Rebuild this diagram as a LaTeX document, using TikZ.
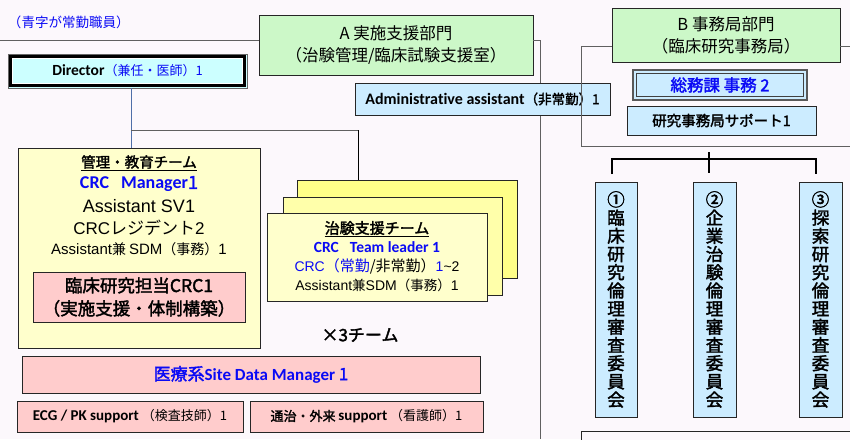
\documentclass[tikz,border=0pt]{standalone}
\usepackage{fontspec}
\setmainfont{Noto Sans CJK JP}[AutoFakeBold=2]
\newfontfamily\calf{Carlito}[Ligatures=NoCommon]
\newfontfamily\arif{Liberation Sans}
\newcommand\fs[2]{\fontsize{#1}{#2}\selectfont}
\definecolor{bg}{HTML}{FCF8FC}
\definecolor{grn}{HTML}{CCF8C8}
\definecolor{lblue}{HTML}{CCECFF}
\definecolor{cyanf}{HTML}{CCFFFF}
\definecolor{lyel}{HTML}{FFFFCC}
\definecolor{yel2}{HTML}{FFFFAA}
\definecolor{yel3}{HTML}{FFFF88}
\definecolor{pnk}{HTML}{FFCCCC}
\definecolor{bl}{HTML}{0A0AF5}
\definecolor{ln}{HTML}{606060}
\definecolor{stl}{HTML}{4F6FA8}
\tikzset{
  box/.style={draw=black!85, line width=0.9pt, inner sep=0pt, outer sep=0pt, align=center},
  gbox/.style={box, fill=grn},
  lbbox/.style={box, fill=lblue},
  pbox/.style={box, fill=pnk},
  ybox/.style={box, fill=lyel},
  txt/.style={inner sep=0pt, outer sep=0pt, align=center},
  conn/.style={draw=ln, line width=0.9pt},
  kconn/.style={draw=black, line width=1.8pt},
  vtext/.style={txt, font=\bfseries\fs{17.5}{18.2}},
}
\begin{document}
\begin{tikzpicture}[x=1pt,y=-1pt]
\fill[bg] (0,0) rectangle (850,439);
\useasboundingbox (0,0) rectangle (850,439);

% top note
\node[txt, anchor=west, text=bl, font=\fs{13.5}{16}] (note) at (8,22) {（青字が常勤職員）};

% A department
\node[gbox, minimum width=274pt, minimum height=60pt, font=\fs{16.5}{22}] (A) at (396,45) {A 実施支援部門\\（治験管理/臨床試験支援室）};
\coordinate (l0) at (0,40);
\draw[conn] (l0) -- (A.west |- l0);
\coordinate (ar) at (540,40);
\coordinate (ab) at (540,439);
\draw[conn] (A.east |- ar) -- (ar) -- (ab);

% admin assistant
\node[lbbox, minimum width=255pt, minimum height=32pt, font=\bfseries\fs{13.5}{16}] (adm) at (482.5,99) {{\calf\fs{16}{18}Administrative assistant}（非常勤）1};

% B department
\node[gbox, minimum width=228pt, minimum height=54pt, font=\fs{16.5}{22}] (B) at (726,35) {B 事務局部門\\（臨床研究事務局）};
\coordinate (b1) at (581,46);
\coordinate (b2) at (581,146);
\coordinate (b3) at (850,146);
\coordinate (b4) at (850,46);
\draw[conn] (B.west |- b1) -- (b1) -- (b2) -- (b3);
\draw[conn] (B.east |- b4) -- (b4);

\node[lbbox, draw=black!65, line width=1.6pt, minimum width=174pt, minimum height=30pt, text=bl, font=\bfseries\fs{16.5}{18}] (soumu) at (720,85) {総務課 事務 2};
\draw[black!75, line width=0.7pt] ([shift={(3.2,3.2)}]soumu.north west) rectangle ([shift={(-3.2,-3.2)}]soumu.south east);
\node[lbbox, minimum width=189pt, minimum height=29pt, font=\bfseries\fs{14.5}{16}] (sup) at (721.5,120.5) {研究事務局サポート1};

% Director
\node[box, draw=black!60, line width=0.8pt, fill=cyanf, minimum width=239pt, minimum height=34pt, font=\fs{13}{16}] (D) at (127.5,71) {{\calf\bfseries\fs{15.5}{16}Director}\textcolor{bl}{（兼任・医師）1}};
\draw[black, line width=2.6pt] ([shift={(2.6,2.6)}]D.north west) rectangle ([shift={(-2.6,-2.6)}]D.south east);
\draw[white, line width=0.6pt] ([shift={(4.3,4.3)}]D.north west) rectangle ([shift={(-4.3,-4.3)}]D.south east);

% management team
\node[ybox, minimum width=242pt, minimum height=200pt] (M) at (139,248) {};
\node[txt, font=\bfseries\fs{14.5}{16}] (m1) at (139,163) {\underline{管理・教育チーム}};
\node[txt, text=bl, font=\bfseries\fs{18}{20}] (m2) at (139,184) {{\calf CRC\hspace{12pt}Manager}1};
\node[txt, font=\fs{18}{20}] (m3) at (139,206) {\arif Assistant SV1};
\node[txt, font=\fs{17}{20}] (m4) at (139,228) {{\arif CRC}レジデント{\arif 2}};
\node[txt, font=\fs{14}{16}] (m5) at (139,249) {{\arif\fs{15}{16}Assistant}兼 {\arif\fs{15}{16}SDM}（事務）{\arif\fs{15}{16}1}};
\node[pbox, minimum width=212pt, minimum height=50pt, font=\bfseries\fs{17.5}{23}] (crc) at (139,297) {臨床研究担当CRC1\\（実施支援・体制構築）};

% director connectors
\coordinate (dj) at (131,130);
\coordinate (tj) at (358,130);
\draw[draw=stl, line width=0.9pt] (D.south -| dj) -- (M.north -| dj);
\draw[conn] (dj) -- (tj);

% trial support team stack
\node[box, fill=yel3, minimum width=220pt, minimum height=98pt] (T3) at (407,229) {};
\node[box, fill=yel2, minimum width=219pt, minimum height=98pt] (T2) at (392.5,246) {};
\node[ybox, minimum width=220pt, minimum height=88pt] (T1) at (377,257) {};
\draw[draw=black, line width=0.9pt] (tj) -- (T3.north -| tj);
\node[txt, font=\bfseries\fs{15}{16}] (t1) at (377,229) {\underline{治験支援チーム}};
\node[txt, text=bl, font=\bfseries\fs{15.5}{16}] (t2) at (377,247) {{\calf CRC\hspace{11pt}Team leader 1}};
\node[txt, font=\fs{15}{16}] (t3) at (377,266) {\textcolor{bl}{{\arif\fs{14}{16}CRC}（常勤}/非常勤）\textcolor{bl}{\arif\fs{14}{16}1}{\arif\fs{14}{16}\textasciitilde2}};
\node[txt, font=\fs{13.5}{16}] (t4) at (377,285) {{\arif\fs{14}{16}Assistant}兼{\arif\fs{14}{16}SDM}（事務）{\arif\fs{14}{16}1}};

\node[txt, font=\bfseries\fs{17}{18}] (x3) at (360,335) {×3チーム};

% SDM and supports
\node[pbox, minimum width=458pt, minimum height=37pt, text=bl, font=\bfseries\fs{17}{18}] (sdm) at (251,374.5) {医療系{\calf Site Data Manager} 1};
\node[pbox, minimum width=226pt, minimum height=31pt, font=\fs{13}{16}] (ecg) at (130,416.5) {{\calf\bfseries\fs{15}{16}ECG / PK support}\hspace{3pt}（検査技師）1};
\node[pbox, minimum width=233pt, minimum height=31pt, font=\fs{13}{16}] (nurse) at (366.5,416.5) {{\bfseries 通治・外来} {\calf\bfseries\fs{15}{16}support}\hspace{3pt}（看護師）1};

% committees
\coordinate (k1) at (612,159);
\coordinate (k1b) at (612,174);
\coordinate (k3) at (816,159);
\coordinate (k3b) at (816,174);
\coordinate (kt) at (709,152);
\coordinate (k2b) at (709,173);
\draw[kconn] (k1b) -- (k1) -- (k3) -- (k3b);
\draw[kconn, line width=1.2pt] (kt) -- (k2b);
\node[lbbox, minimum width=42pt, minimum height=235pt] (c1) at (616,299.5) {};
\node[lbbox, minimum width=43pt, minimum height=235pt] (c2) at (714.5,299.5) {};
\node[lbbox, minimum width=43pt, minimum height=235pt] (c3) at (820.5,299.5) {};
\node[vtext] (c1t) at (c1) {①\\臨\\床\\研\\究\\倫\\理\\審\\査\\委\\員\\会};
\node[vtext] (c2t) at (c2) {②\\企\\業\\治\\験\\倫\\理\\審\\査\\委\\員\\会};
\node[vtext] (c3t) at (c3) {③\\探\\索\\研\\究\\倫\\理\\審\\査\\委\\員\\会};

% partial box at bottom right
\node[box, fill=bg, minimum width=280pt, minimum height=30pt, anchor=north west] (br) at (581,431) {};
\end{tikzpicture}
\end{document}
